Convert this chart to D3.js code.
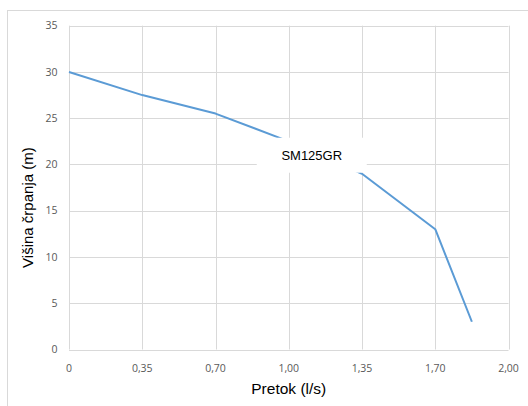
<!DOCTYPE html>
<html><head><meta charset="utf-8">
<script src="https://cdn.jsdelivr.net/npm/d3@7"></script>
<style>
html,body{margin:0;padding:0;background:#fff;}
svg{display:block;}
</style></head>
<body>
<svg id="c" width="528" height="406"></svg>
<script>
const xTicks = [0, 0.35, 0.70, 1.00, 1.35, 1.70, 2.00];
const xTickLabels = ["0", "0,35", "0,70", "1,00", "1,35", "1,70", "2,00"];
const yTicks = [0, 5, 10, 15, 20, 25, 30, 35];
const flow = [0, 0.35, 0.70, 1.00, 1.35, 1.70, 1.85];
const head = [30, 27.5, 25.5, 22.5, 19, 13, 3];
const seriesName = "SM125GR";
const xTitle = "Pretok (l/s)";
const yTitle = "Višina črpanja (m)";

const svg = d3.select("#c");
const L = 69, R = 508.5, T = 25.7, B = 349.5;

// chart area border
svg.append("rect").attr("x", 7.5).attr("y", 10.5).attr("width", 540).attr("height", 420)
  .attr("fill", "#fff").attr("stroke", "#d9d9d9").attr("stroke-width", 1);

const x = d3.scaleLinear().domain(xTicks)
  .range(xTicks.map((d, i) => L + (R - L) * i / (xTicks.length - 1)));
const y = d3.scaleLinear().domain([0, 35]).range([B, T]);

const g = svg.append("g");
// horizontal gridlines
g.selectAll(".hg").data(yTicks).enter().append("line")
  .attr("x1", L).attr("x2", R)
  .attr("y1", d => Math.round(y(d)) + 0.5).attr("y2", d => Math.round(y(d)) + 0.5)
  .attr("stroke", "#d9d9d9").attr("stroke-width", 1);
// vertical gridlines
g.selectAll(".vg").data(xTicks).enter().append("line")
  .attr("y1", T).attr("y2", B)
  .attr("x1", d => Math.round(x(d)) + 0.5).attr("x2", d => Math.round(x(d)) + 0.5)
  .attr("stroke", "#d9d9d9").attr("stroke-width", 1);

// y tick labels
g.selectAll(".yl").data(yTicks).enter().append("text")
  .attr("x", 57.5).attr("y", d => y(d)).attr("dy", "0.35em")
  .attr("text-anchor", "end")
  .attr("font-family", "'Open Sans', sans-serif").attr("font-size", "10.5px")
  .attr("fill", "#595959").text(d => d);

// x tick labels
g.selectAll(".xl").data(xTicks).enter().append("text")
  .attr("x", d => x(d)).attr("y", 372)
  .attr("text-anchor", "middle")
  .attr("font-family", "'Open Sans', sans-serif").attr("font-size", "10.5px")
  .attr("fill", "#595959").text((d, i) => xTickLabels[i]);

// axis titles
svg.append("text").attr("x", (L + R) / 2).attr("y", 394)
  .attr("text-anchor", "middle")
  .attr("font-family", "'Liberation Sans', Arial, sans-serif").attr("font-size", "15.5px")
  .attr("fill", "#000").text(xTitle);
svg.append("text")
  .attr("transform", `translate(33,${(T + B) / 2 + 20}) rotate(-90)`)
  .attr("text-anchor", "middle")
  .attr("font-family", "'Liberation Sans', Arial, sans-serif").attr("font-size", "15px")
  .attr("fill", "#000").text(yTitle);

// line
const pts = flow.map((d, i) => [d, head[i]]);
svg.append("path").datum(pts)
  .attr("d", d3.line().x(d => x(d[0])).y(d => y(d[1])))
  .attr("fill", "none").attr("stroke", "#5b9bd5").attr("stroke-width", 2)
  .attr("stroke-linejoin", "round");

// series label
const lx = x(1.00) + 23, ly = y(21);
svg.append("rect").attr("x", lx - 55).attr("y", ly - 17.5).attr("width", 110).attr("height", 35)
  .attr("fill", "#fff");
svg.append("text").attr("x", lx).attr("y", ly).attr("dy", "0.35em")
  .attr("text-anchor", "middle")
  .attr("font-family", "'Liberation Sans', Arial, sans-serif").attr("font-size", "13px")
  .attr("fill", "#000").text(seriesName);
</script>
</body></html>
